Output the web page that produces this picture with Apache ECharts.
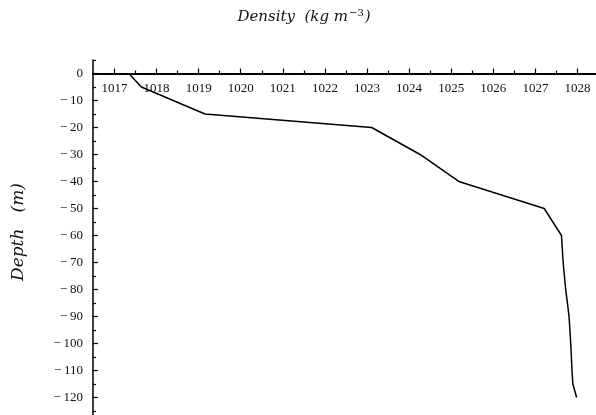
<!DOCTYPE html>
<html>
<head>
<meta charset="utf-8">
<script src="https://cdn.jsdelivr.net/npm/echarts@6/dist/echarts.min.js"></script>
<style>
  html, body { margin: 0; padding: 0; background: #fff; }
  #chart { width: 596px; height: 415px; }
</style>
</head>
<body>
<div id="chart"></div>
<script>
// Density profile: depth (m, negative downward) vs density (kg m^-3)
const depths = [0, -5, -15, -20, -30, -40, -50, -60, -70, -80, -90, -100, -110, -115, -120];
const densities = [1017.34, 1017.64, 1019.15, 1023.11, 1024.26, 1025.18, 1027.21, 1027.62,
                   1027.66, 1027.72, 1027.80, 1027.84, 1027.87, 1027.89, 1027.98];

// Axis tick positions
const densityTicks = [1017, 1018, 1019, 1020, 1021, 1022, 1023, 1024, 1025, 1026, 1027, 1028];
const densityMinorTicks = [1017.5, 1018.5, 1019.5, 1020.5, 1021.5, 1022.5, 1023.5, 1024.5, 1025.5, 1026.5, 1027.5];
const depthTicks = [0, -10, -20, -30, -40, -50, -60, -70, -80, -90, -100, -110, -120];
const depthMinorTicks = [5, -5, -15, -25, -35, -45, -55, -65, -75, -85, -95, -105, -115, -125];

const densityRange = [1016.49, 1028.44];
const depthRange = [-126.5, 5];

const tickFont = { fontFamily: 'Liberation Serif', fontSize: 13, color: '#111' };
const nameFont = 'DejaVu Serif';

const chart = echarts.init(document.getElementById('chart'), null, { renderer: 'canvas' });

const points = densities.map((d, i) => [d, depths[i]]);

// the density axis sits on the zero-depth line, 5 m below the grid top
const gridTop = 60;
const pxPerMetre = (415 - gridTop) / (depthRange[1] - depthRange[0]);
const axisOffset = -depthRange[1] * pxPerMetre;

function densityAxis(ticks, tickLen, withLabels) {
  return {
    type: 'value',
    position: 'top',
    offset: axisOffset,
    min: densityRange[0],
    max: densityRange[1],
    axisLine: { show: true, onZero: false, lineStyle: { color: '#000', width: 2 } },
    axisTick: { show: true, inside: false, length: tickLen, customValues: ticks, lineStyle: { color: '#000', width: 1.2 } },
    axisLabel: withLabels ? {
      show: true, inside: true, margin: 9, customValues: ticks,
      ...tickFont,
      formatter: v => String(Math.round(v))
    } : { show: false },
    splitLine: { show: false }
  };
}

function depthAxis(ticks, tickLen, withLabels) {
  return {
    type: 'value',
    position: 'left',
    min: depthRange[0],
    max: depthRange[1],
    axisLine: { show: withLabels, onZero: false, lineStyle: { color: '#000', width: 1.5 } },
    axisTick: { show: true, inside: true, length: tickLen, customValues: ticks, lineStyle: { color: '#000', width: 1.2 } },
    axisLabel: withLabels ? {
      show: true, margin: 10, customValues: ticks,
      ...tickFont,
      formatter: v => (v < 0 ? '−\u2009' + Math.abs(v) : String(v))
    } : { show: false },
    splitLine: { show: false }
  };
}

chart.setOption({
  animation: false,
  backgroundColor: '#fff',
  grid: { left: 93, right: 0, top: gridTop, bottom: 0, containLabel: false },
  graphic: [{
    type: 'text',
    x: 304,
    y: 17,
    style: {
      text: '{t|Density  (kg m}{s|−3}{t|)}',
      textAlign: 'center',
      textVerticalAlign: 'middle',
      rich: {
        t: { fontFamily: nameFont, fontStyle: 'italic', fontSize: 15, fill: '#111' },
        s: { fontFamily: nameFont, fontSize: 10, fill: '#111', padding: [0, 1, 8, 1] }
      }
    }
  }, {
    type: 'text',
    x: 19,
    y: 232,
    rotation: Math.PI / 2,
    style: {
      text: 'Depth   (m)',
      textAlign: 'center',
      textVerticalAlign: 'middle',
      fontFamily: nameFont,
      fontStyle: 'italic',
      fontSize: 17,
      fill: '#111'
    }
  }],
  xAxis: [
    densityAxis(densityTicks, 5, true),
    densityAxis(densityMinorTicks, 3, false)
  ],
  yAxis: [
    depthAxis(depthTicks, 5, true),
    depthAxis(depthMinorTicks, 3, false)
  ],
  series: [{
    type: 'line',
    xAxisIndex: 0,
    yAxisIndex: 0,
    data: points,
    showSymbol: false,
    symbol: 'none',
    lineStyle: { color: '#000', width: 1.5 },
    z: 3
  }]
});
</script>
</body>
</html>
